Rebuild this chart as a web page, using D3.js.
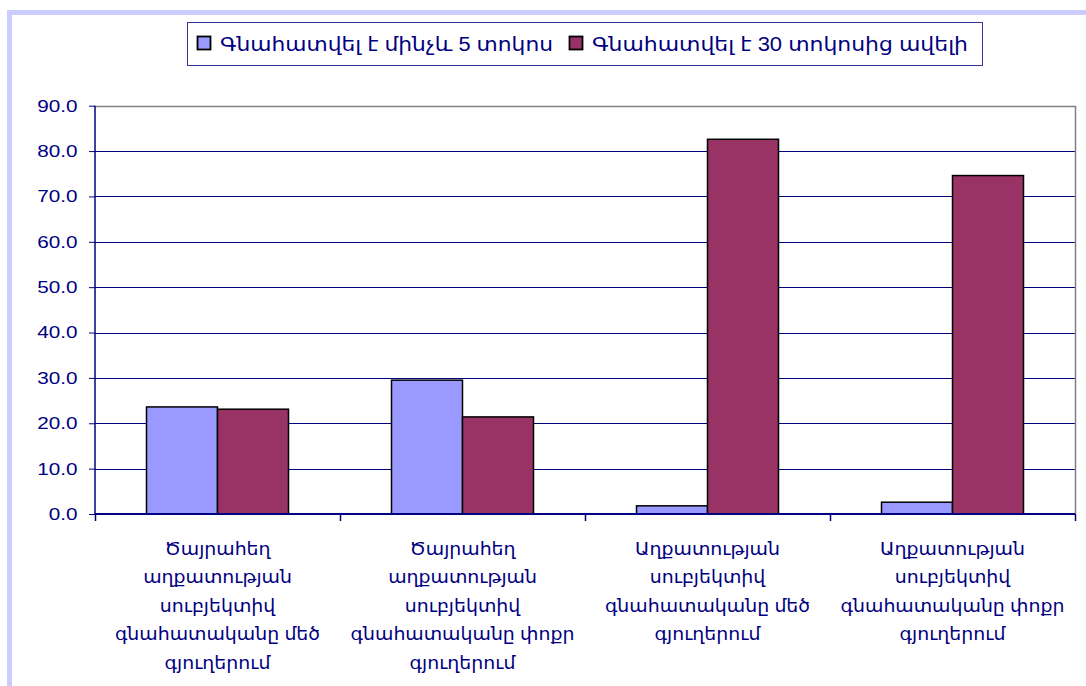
<!DOCTYPE html>
<html><head><meta charset="utf-8">
<script src="https://cdn.jsdelivr.net/npm/d3@7"></script>
<style>
html,body{margin:0;padding:0;background:#fff;}
svg{display:block;}
text{font-family:"Liberation Sans","DejaVu Sans",sans-serif;}
</style></head>
<body>
<script>
const categories = [
  ["Ծայրահեղ","աղքատության","սուբյեկտիվ","գնահատականը մեծ","գյուղերում"],
  ["Ծայրահեղ","աղքատության","սուբյեկտիվ","գնահատականը փոքր","գյուղերում"],
  ["Աղքատության","սուբյեկտիվ","գնահատականը մեծ","գյուղերում"],
  ["Աղքատության","սուբյեկտիվ","գնահատականը փոքր","գյուղերում"]
];
const seriesNames = ["Գնահատվել է մինչև 5 տոկոս", "Գնահատվել է 30 տոկոսից ավելի"];
const seriesUpTo5 = [23.6, 29.5, 1.8, 2.6];
const seriesOver30 = [23.1, 21.4, 82.6, 74.6];
const yTicks = [0,10,20,30,40,50,60,70,80,90];
const colors = ["#9999ff", "#993366"];

const W = 1086, H = 686;
const m = {left:95, top:105.7, right:1075, bottom:514};
const svg = d3.select("body").append("svg").attr("width",W).attr("height",H);

// outer frame
svg.append("rect").attr("x",9.5).attr("y",12.5).attr("width",W+20).attr("height",H+20)
  .attr("fill","none").attr("stroke","#ccccff").attr("stroke-width",5);

const idx = d3.range(categories.length);
const x0 = d3.scaleBand().domain(idx).range([m.left, m.right]).paddingInner(0).paddingOuter(0);
const x1 = d3.scaleBand().domain([0,1]).range([0, 142]);
const y = d3.scaleLinear().domain([0,90]).range([m.bottom, m.top]);

// gridlines
svg.append("g").selectAll("line").data(yTicks.filter(t=>t>0 && t<90)).join("line")
  .attr("x1",m.left).attr("x2",m.right)
  .attr("y1",d=>Math.round(y(d))+0.5).attr("y2",d=>Math.round(y(d))+0.5)
  .attr("stroke","#000080").attr("stroke-width",1);

// plot border top/right gray
svg.append("path")
  .attr("d",`M${m.left},${Math.round(y(90))+0.5}H${m.right+0.5}V${m.bottom}`)
  .attr("fill","none").attr("stroke","#808080").attr("stroke-width",1.5);

// bars
const series = [seriesUpTo5, seriesOver30];
const groupOffset = (x0.bandwidth()-142)/2;
series.forEach((vals,s)=>{
  svg.append("g").selectAll("rect").data(vals).join("rect")
    .attr("x",(d,i)=>x0(i)+groupOffset+x1(s))
    .attr("y",d=>y(d))
    .attr("width",x1.bandwidth())
    .attr("height",d=>y(0)-y(d))
    .attr("fill",colors[s]).attr("stroke","#000").attr("stroke-width",1.5);
});

// y axis
const yAxis = d3.axisLeft(y).tickValues(yTicks).tickFormat(d3.format(".1f")).tickSize(6).tickPadding(11);
const gy = svg.append("g").attr("transform",`translate(${m.left},0)`).call(yAxis);
gy.select(".domain").attr("stroke","#000080").attr("stroke-width",1.5).attr("d",`M0,${m.top}V${m.bottom}`);
gy.selectAll(".tick line").attr("stroke","#000080");
gy.selectAll(".tick text").attr("fill","#000080").style("font-size","17px")
  .style("font-family","'Liberation Sans',sans-serif")
  .attr("x",0).attr("transform","translate(-17.5,0) scale(1.22,1)");

// x axis
const xAxis = d3.axisBottom(d3.scaleLinear().domain([0,4]).range([m.left,m.right])).tickValues([0,1,2,3,4]).tickSize(7).tickFormat("");
const gx = svg.append("g").attr("transform",`translate(0,${m.bottom})`).call(xAxis);
gx.select(".domain").attr("stroke","#000080").attr("stroke-width",2).attr("d",`M${m.left},0H${m.right}`);
gx.selectAll(".tick line").attr("stroke","#000080").attr("stroke-width",1.5);

// category labels
categories.forEach((lines,i)=>{
  const cx = x0(i)+x0.bandwidth()/2;
  const t = svg.append("text").attr("text-anchor","middle").attr("fill","#000080").style("font-size","18px")
    .attr("transform",`translate(${cx},0) scale(1.05,1)`);
  lines.forEach((ln,k)=>{
    t.append("tspan").attr("x",0).attr("y",555+k*28.4).text(ln);
  });
});

// legend
const lg = svg.append("g");
lg.append("rect").attr("x",187.5).attr("y",22.5).attr("width",795).attr("height",43)
  .attr("fill","#fff").attr("stroke","#333399").attr("stroke-width",1);
const legX = [197, 569];
const legW = [333, 376];
seriesNames.forEach((n,s)=>{
  lg.append("rect").attr("x",legX[s]+0.5).attr("y",36.5).attr("width",13).attr("height",13)
    .attr("fill",colors[s]).attr("stroke","#000").attr("stroke-width",1.8);
  lg.append("text").attr("x",legX[s]+23).attr("y",50.5).attr("fill","#000080").style("font-size","20px")
    .attr("textLength",legW[s]).attr("lengthAdjust","spacingAndGlyphs").text(n);
});
</script>
</body></html>
